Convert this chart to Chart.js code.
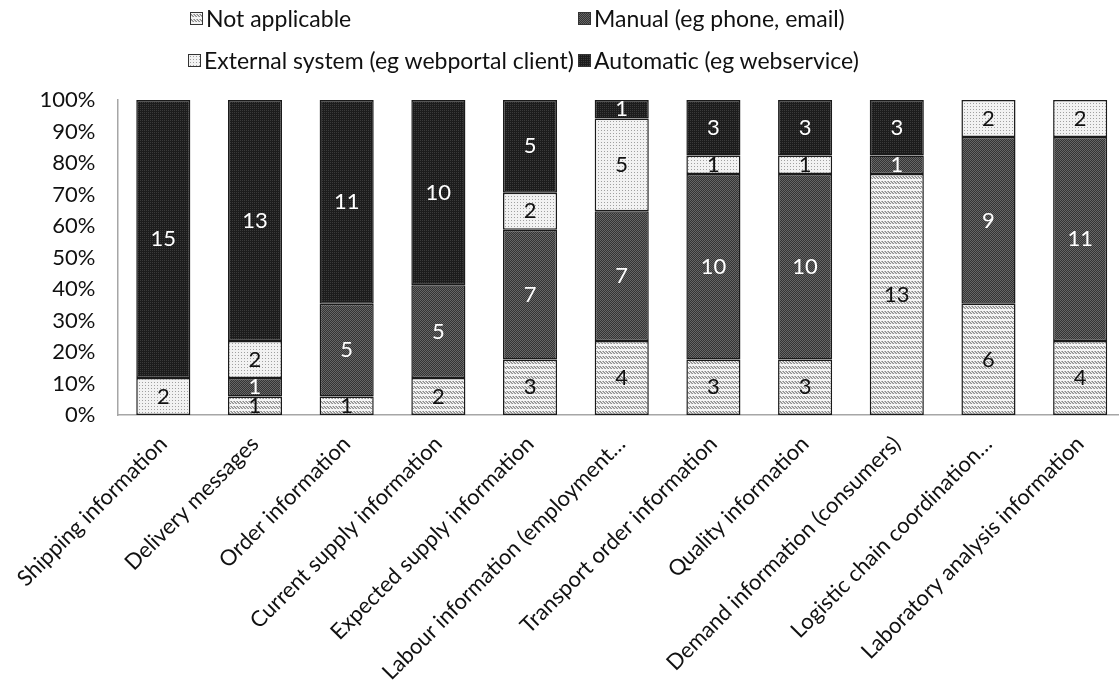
<!DOCTYPE html>
<html>
<head>
<meta charset="utf-8">
<script src="https://cdn.jsdelivr.net/npm/chart.js@4/dist/chart.umd.min.js"></script>
<style>
  html, body { margin: 0; padding: 0; background: #fff; overflow: hidden; }
  #wrap { position: relative; width: 1126px; height: 682px; }
  #legend { position: absolute; left: 0; top: 0; width: 1126px; height: 90px; font-family: Lato, "Open Sans", sans-serif; font-size: 23px; color: #111; }
  .li { position: absolute; display: flex; align-items: center; white-space: nowrap; height: 30px; }
  .li canvas { width: 11px; height: 11px; border: 1px solid #333; margin-right: 3px; }
</style>
</head>
<body>
<div id="wrap">
  <canvas id="c" width="1126" height="682"></canvas>
  <div id="legend"></div>
</div>
<script>
const categories = [
  "Shipping information",
  "Delivery messages",
  "Order information",
  "Current supply information",
  "Expected supply information",
  "Labour information (employment…",
  "Transport order information",
  "Quality information",
  "Demand information (consumers)",
  "Logistic chain coordination…",
  "Laboratory analysis information"
];
const seriesNames = ["Not applicable", "Manual (eg phone, email)", "External system (eg webportal client)", "Automatic (eg webservice)"];
const notApplicable = [0, 1, 1, 2, 3, 4, 3, 3, 13, 6, 4];
const manual        = [0, 1, 5, 5, 7, 7, 10, 10, 1, 9, 11];
const external      = [2, 2, 0, 0, 2, 5, 1, 1, 0, 2, 2];
const automatic     = [15, 13, 11, 10, 5, 1, 3, 3, 3, 0, 0];
const yTickValues = [0, 10, 20, 30, 40, 50, 60, 70, 80, 90, 100];

function makePattern(kind) {
  const t = document.createElement('canvas');
  const g = t.getContext('2d');
  if (kind === 'na') {
    t.width = 3; t.height = 5;
    g.fillStyle = '#f4f4f4'; g.fillRect(0, 0, 3, 5);
    g.fillStyle = '#8c8c8c';
    g.fillRect(0, 1, 1, 1); g.fillRect(1, 2, 1, 1); g.fillRect(2, 3, 1, 1);
    g.fillStyle = '#b4b4b4';
    g.fillRect(0, 2, 1, 1); g.fillRect(1, 3, 1, 1); g.fillRect(2, 1, 1, 1);
  } else if (kind === 'ext') {
    t.width = 3; t.height = 3;
    g.fillStyle = '#f2f2f2'; g.fillRect(0, 0, 3, 3);
    g.fillStyle = '#a0a0a0'; g.fillRect(1, 1, 1, 1);
  } else if (kind === 'man') {
    t.width = 2; t.height = 2;
    g.fillStyle = '#343434'; g.fillRect(0, 0, 2, 2);
    g.fillStyle = '#666666'; g.fillRect(0, 0, 1, 1); g.fillRect(1, 1, 1, 1);
  } else {
    t.width = 2; t.height = 2;
    g.fillStyle = '#1c1c1c'; g.fillRect(0, 0, 2, 2);
    g.fillStyle = '#3a3a3a'; g.fillRect(0, 0, 1, 1);
  }
  return t;
}

const ctx = document.getElementById('c').getContext('2d');
const kinds = ['na', 'man', 'ext', 'auto'];
const patterns = kinds.map(k => ctx.createPattern(makePattern(k), 'repeat'));
const labelColors = ['#111', '#fff', '#111', '#fff'];
const counts = [notApplicable, manual, external, automatic];
const totals = categories.map((_, i) => counts.reduce((s, a) => s + a[i], 0));

const datasets = counts.map((arr, k) => ({
  label: seriesNames[k],
  data: arr.map((v, i) => v / totals[i] * 100),
  rawCounts: arr,
  backgroundColor: patterns[k],
  borderColor: '#1a1a1a',
  borderWidth: 1.5,
  borderSkipped: false,
  categoryPercentage: 1.0,
  barPercentage: 0.59
}));

const valueLabels = {
  id: 'valueLabels',
  afterDatasetsDraw(chart) {
    const c = chart.ctx;
    c.save();
    c.font = '22px Lato, "Open Sans", sans-serif';
    c.textAlign = 'center';
    c.textBaseline = 'middle';
    chart.data.datasets.forEach((ds, k) => {
      const meta = chart.getDatasetMeta(k);
      meta.data.forEach((bar, i) => {
        const v = ds.rawCounts[i];
        if (!v) return;
        c.fillStyle = labelColors[k];
        c.fillText(String(v), bar.x, (bar.y + bar.base) / 2);
      });
    });
    c.restore();
  }
};

const chart = new Chart(ctx, {
  type: 'bar',
  data: { labels: categories, datasets },
  plugins: [valueLabels],
  options: {
    responsive: false,
    animation: false,
    layout: { padding: { top: 100, left: 0, right: 0, bottom: 0 } },
    plugins: { legend: { display: false }, tooltip: { enabled: false } },
    scales: {
      x: {
        stacked: true,
        grid: { display: false, drawTicks: false },
        border: { display: true, color: '#a6a6a6', width: 1.5 },
        ticks: {
          autoSkip: false, maxRotation: 45, minRotation: 45, padding: 16,
          color: '#111', font: { family: 'Lato, "Open Sans", sans-serif', size: 22 }
        },
        afterFit(s) { s.height = 267; }
      },
      y: {
        stacked: true, min: 0, max: 100,
        grid: { display: false, drawTicks: false },
        border: { display: true, color: '#a6a6a6', width: 1.5 },
        afterBuildTicks(s) { s.ticks = yTickValues.map(v => ({ value: v })); },
        ticks: {
          padding: 22, color: '#111',
          font: { family: 'Lato, "Open Sans", sans-serif', size: 22 },
          callback: v => v + '%'
        },
        afterFit(s) { s.width = 114; }
      }
    }
  }
});

// HTML legend built from the chart's datasets
const legendPos = [[190, 18], [578, 18], [188, 60], [578, 60]];
const legendEl = document.getElementById('legend');
chart.data.datasets.forEach((ds, k) => {
  const item = document.createElement('div');
  item.className = 'li';
  const sw = document.createElement('canvas');
  sw.width = 11; sw.height = 11;
  const sg = sw.getContext('2d');
  sg.fillStyle = sg.createPattern(makePattern(kinds[k]), 'repeat');
  sg.fillRect(0, 0, 11, 11);
  item.appendChild(sw);
  const tx = document.createElement('span');
  tx.textContent = ds.label;
  item.appendChild(tx);
  item.style.left = legendPos[k][0] + 'px';
  item.style.top = (legendPos[k][1] - 15) + 'px';
  legendEl.appendChild(item);
});
</script>
</body>
</html>
